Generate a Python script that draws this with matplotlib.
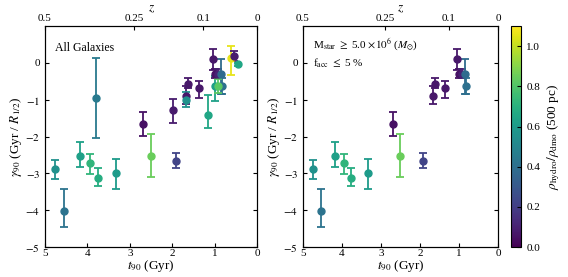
import numpy as np
import matplotlib
matplotlib.use('Agg')
import matplotlib.pyplot as plt
from matplotlib import cm, colors

plt.rcParams['font.family'] = ['Liberation Serif', 'DejaVu Serif']
plt.rcParams['mathtext.fontset'] = 'stix'
plt.rcParams['xtick.direction'] = 'in'
plt.rcParams['ytick.direction'] = 'in'

# t90 (Gyr), gamma90, lower/upper error bar ends, density ratio, shown in right panel
t90 = [4.75, 4.54, 4.17, 3.94, 3.76, 3.33, 2.50, 1.91, 3.80, 2.70, 1.98, 1.67, 1.67,
       1.62, 1.37, 1.15, 1.05, 0.99, 0.93, 0.85, 0.83, 0.99, 0.93, 0.63, 0.54, 0.45]
gam = [-2.88, -4.01, -2.52, -2.73, -3.12, -2.98, -2.53, -2.65, -0.94, -1.65, -1.29, -0.90, -1.01,
       -0.56, -0.67, -1.41, 0.10, -0.29, -0.29, -0.30, -0.62, -0.62, -0.62, 0.13, 0.18, -0.04]
lo = [-3.15, -4.45, -2.83, -3.01, -3.35, -3.41, -3.09, -2.84, -2.04, -1.98, -1.63, -1.12, -1.21,
      -0.68, -0.94, -1.77, -0.20, -0.42, -0.40, -0.85, -0.85, -1.03, -0.83, -0.33, 0.05, -0.09]
hi = [-2.63, -3.41, -2.14, -2.47, -2.86, -2.60, -1.94, -2.45, 0.14, -1.34, -0.97, -0.62, -0.78,
      -0.42, -0.48, -0.88, 0.37, -0.17, -0.17, 0.11, -0.40, -0.35, -0.43, 0.46, 0.32, 0.01]
rho = [0.55, 0.42, 0.62, 0.72, 0.68, 0.60, 0.85, 0.22, 0.45, 0.05, 0.08, 0.07, 0.55,
       0.07, 0.07, 0.65, 0.07, 0.05, 0.10, 0.38, 0.40, 0.62, 0.82, 1.06, 0.08, 0.65]
in_cut = [1, 1, 1, 1, 1, 1, 1, 1, 0, 1, 0, 1, 0,
          1, 1, 0, 1, 1, 1, 1, 1, 0, 0, 0, 0, 0]

z_ticks = [5.0, 2.9, 1.27, 0.0]
z_labels = ['0.5', '0.25', '0.1', '0']

norm = colors.Normalize(vmin=0, vmax=1.1)
cmap = cm.viridis

fig = plt.figure(figsize=(5.68, 2.77), dpi=100)
ax1 = fig.add_axes([0.079, 0.108, 0.374, 0.798])
ax2 = fig.add_axes([0.533, 0.108, 0.344, 0.798])
cax = fig.add_axes([0.899, 0.108, 0.019, 0.798])

for ax, subset in [(ax1, False), (ax2, True)]:
    for i in range(len(t90)):
        if subset and not in_cut[i]:
            continue
        c = cmap(norm(rho[i]))
        yerr = [[gam[i] - lo[i]], [hi[i] - gam[i]]]
        ax.errorbar([t90[i]], [gam[i]], yerr=yerr, fmt='o', color=c, ms=5,
                    capsize=3, elinewidth=1.3, capthick=1.3)
    ax.set_xlim(5, 0)
    ax.set_ylim(-5, 1)
    ax.set_yticks([0, -1, -2, -3, -4, -5])
    ax.set_yticklabels(['0', '$-1$', '$-2$', '$-3$', '$-4$', '$-5$'])
    ax.set_xticks([5, 4, 3, 2, 1, 0])
    ax.tick_params(labelsize=8, right=True, length=3)
    ax.tick_params(axis='x', pad=1.5)
    ax.set_xlabel('$t_{90}$ (Gyr)', fontsize=9.5, labelpad=0)
    ax.set_ylabel(r'$\gamma_{90}$ (Gyr / $R_{1/2}$)', fontsize=9.5, labelpad=1)
    top = ax.twiny()
    top.set_xlim(5, 0)
    top.set_xticks(z_ticks)
    top.set_xticklabels(z_labels)
    top.tick_params(labelsize=8, length=3, pad=2)
    top.set_xlabel('$z$', fontsize=9.5, labelpad=2)

ax1.text(0.05, 0.93, 'All Galaxies', transform=ax1.transAxes, fontsize=8.5, va='top')
ax2.text(0.05, 0.95, r'M$_{\rm star}$ $\geq$ 5.0 $\times 10^{6}$ ($M_{\odot}$)' + '\n' +
         r'f$_{\rm acc}$ $\leq$ 5 %', transform=ax2.transAxes, fontsize=8, va='top',
         linespacing=1.3)

sm = cm.ScalarMappable(norm=norm, cmap=cmap)
cb = fig.colorbar(sm, cax=cax)
cb.set_ticks([0.0, 0.2, 0.4, 0.6, 0.8, 1.0])
cb.ax.tick_params(labelsize=8, direction='in', length=3)
cb.set_label(r'$\rho_{\rm hydro}/\rho_{\rm dmo}$ (500 pc)', fontsize=9.5)

fig.savefig('out.png', dpi=100)
